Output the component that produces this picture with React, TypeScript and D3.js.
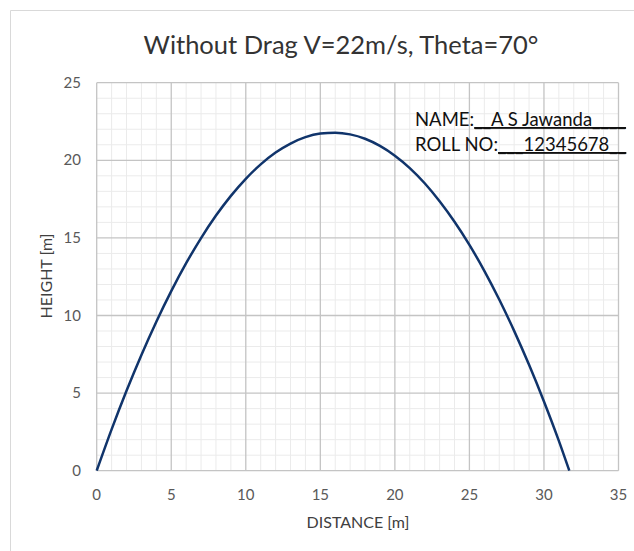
import { useEffect, useRef } from "react";
import * as d3 from "d3";

// trajectory points (distance m, height m)
const distance = [0, 1, 2, 3, 4, 5, 6, 7, 8, 9, 10, 11, 12, 13, 14, 15, 16, 17, 18, 19, 20, 21, 22, 23, 24, 25, 26, 27, 28, 29, 30, 31, 31.7];
const height = [0, 2.66, 5.15, 7.46, 9.6, 11.57, 13.37, 14.99, 16.44, 17.71, 18.81, 19.74, 20.5, 21.08, 21.49, 21.72, 21.78, 21.67, 21.39, 20.93, 20.3, 19.5, 18.52, 17.36, 16.04, 14.55, 12.88, 11.03, 9.01, 6.82, 4.46, 1.92, 0];

const xTicks = [0, 5, 10, 15, 20, 25, 30, 35];
const yTicks = [0, 5, 10, 15, 20, 25];

const W = 634;
const H = 551;
const FONT = "Lato, 'Open Sans', sans-serif";

export default function App() {
  const ref = useRef<SVGSVGElement>(null);

  useEffect(() => {
    if (!ref.current) return;
    const svg = d3.select(ref.current);
    svg.selectAll("*").remove();

    const x = d3.scaleLinear().domain([0, 35]).range([96.7, 618.5]);
    const y = d3.scaleLinear().domain([0, 25]).range([470.7, 82.7]);

    // outer chart frame (only left/top visible)
    svg.append("path")
      .attr("d", `M10.5,${H} V10.5 H${W}`)
      .attr("fill", "none")
      .attr("stroke", "#d9d9d9")
      .attr("stroke-width", 1);

    const grid = svg.append("g");
    // minor grid
    d3.range(0, 36, 1).filter((v) => v % 5 !== 0).forEach((v) => {
      grid.append("line")
        .attr("x1", x(v)).attr("x2", x(v))
        .attr("y1", y(0)).attr("y2", y(25))
        .attr("stroke", "#ebebeb").attr("stroke-width", 1);
    });
    d3.range(0, 26, 1).filter((v) => v % 5 !== 0).forEach((v) => {
      grid.append("line")
        .attr("x1", x(0)).attr("x2", x(35))
        .attr("y1", y(v)).attr("y2", y(v))
        .attr("stroke", "#ebebeb").attr("stroke-width", 1);
    });
    // major grid
    xTicks.forEach((v) => {
      grid.append("line")
        .attr("x1", x(v)).attr("x2", x(v))
        .attr("y1", y(0)).attr("y2", y(25))
        .attr("stroke", "#c4c4c4").attr("stroke-width", 1.3);
    });
    yTicks.forEach((v) => {
      grid.append("line")
        .attr("x1", x(0)).attr("x2", x(35))
        .attr("y1", y(v)).attr("y2", y(v))
        .attr("stroke", "#c4c4c4").attr("stroke-width", 1.3);
    });

    // tick labels
    svg.append("g").selectAll("text").data(xTicks).join("text")
      .attr("x", (d) => x(d))
      .attr("y", 500)
      .attr("text-anchor", "middle")
      .attr("font-family", FONT)
      .attr("font-size", 15)
      .attr("fill", "#595959")
      .text((d) => d);
    svg.append("g").selectAll("text").data(yTicks).join("text")
      .attr("x", 81)
      .attr("y", (d) => y(d) + 5)
      .attr("text-anchor", "end")
      .attr("font-family", FONT)
      .attr("font-size", 15)
      .attr("fill", "#595959")
      .text((d) => d);

    // axis titles
    svg.append("text")
      .attr("x", 358).attr("y", 528)
      .attr("text-anchor", "middle")
      .attr("font-family", FONT).attr("font-size", 16)
      .attr("fill", "#404040")
      .text("DISTANCE [m]");
    svg.append("text")
      .attr("transform", "translate(52,276) rotate(-90)")
      .attr("text-anchor", "middle")
      .attr("font-family", FONT).attr("font-size", 16)
      .attr("fill", "#404040")
      .text("HEIGHT [m]");

    // title
    svg.append("text")
      .attr("x", 341).attr("y", 54)
      .attr("text-anchor", "middle")
      .attr("font-family", FONT).attr("font-size", 25.5)
      .attr("fill", "#333333")
      .text("Without Drag V=22m/s, Theta=70°");

    // trajectory
    const pts = distance.map((d, i) => [d, height[i]] as [number, number]);
    const line = d3.line<[number, number]>()
      .x((d) => x(d[0]))
      .y((d) => y(d[1]))
      .curve(d3.curveMonotoneX);
    svg.append("path")
      .datum(pts)
      .attr("d", line)
      .attr("fill", "none")
      .attr("stroke", "#10346b")
      .attr("stroke-width", 2.5);

    // name / roll no annotation
    const ann = [
      { label: "NAME:", value: "__A S Jawanda____", y: 126 },
      { label: "ROLL NO:", value: "___12345678__", y: 151 },
    ];
    ann.forEach((a) => {
      const t = svg.append("text")
        .attr("x", 415).attr("y", a.y)
        .attr("font-family", FONT).attr("font-size", 18.5)
        .attr("fill", "#111111");
      t.append("tspan").text(a.label);
      t.append("tspan")
        .style("text-decoration", "underline")
        .text(a.value);
    });
  }, []);

  return (
    <svg
      ref={ref}
      width={W}
      height={H}
      style={{ position: "absolute", left: 0, top: 0, background: "#fff" }}
    />
  );
}
